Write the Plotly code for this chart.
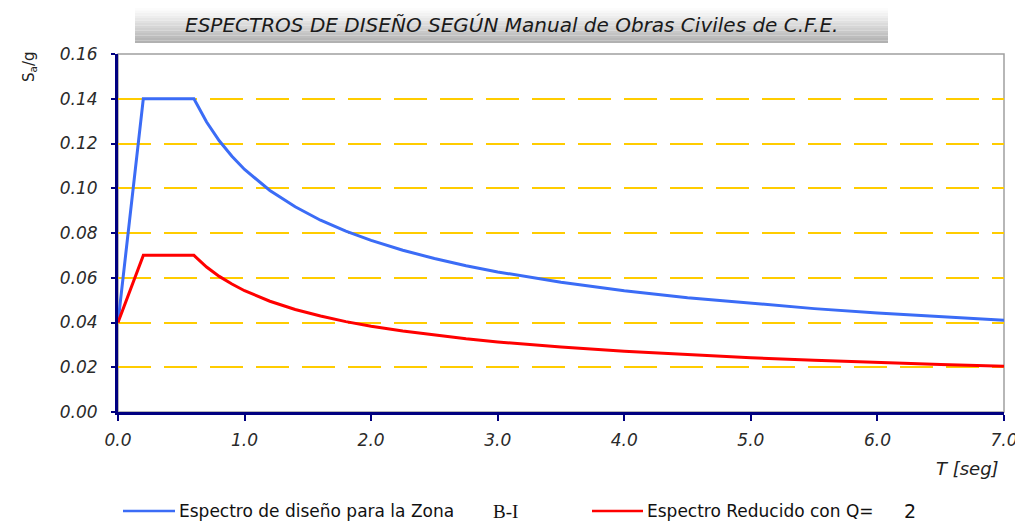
import plotly.graph_objects as go

# Periods T [seg]
T = [0.0, 0.2, 0.6, 0.7, 0.8, 0.9, 1.0, 1.2, 1.4, 1.6, 1.8, 2.0, 2.25, 2.5, 2.75,
     3.0, 3.5, 4.0, 4.5, 5.0, 5.5, 6.0, 6.5, 7.0]
# Design spectrum, zone B-I (Sa/g)
sa_design = [0.040, 0.140, 0.140, 0.1296, 0.1212, 0.1143, 0.1084, 0.0990, 0.0917,
             0.0857, 0.0808, 0.0767, 0.0723, 0.0686, 0.0654, 0.0626, 0.0580, 0.0542,
             0.0511, 0.0485, 0.0462, 0.0443, 0.0425, 0.0410]
# Reduced spectrum with Q = 2 (Sa/g)
sa_reduced = [0.040, 0.070, 0.070, 0.0648, 0.0606, 0.0572, 0.0542, 0.0495, 0.0458,
              0.0429, 0.0404, 0.0383, 0.0362, 0.0343, 0.0327, 0.0313, 0.0290, 0.0271,
              0.0255, 0.0242, 0.0231, 0.0221, 0.0212, 0.0205]

x_ticks = [0, 1, 2, 3, 4, 5, 6, 7]
x_tick_text = ["0.0", "1.0", "2.0", "3.0", "4.0", "5.0", "6.0", "7.0"]
y_ticks = [0.00, 0.02, 0.04, 0.06, 0.08, 0.10, 0.12, 0.14, 0.16]
y_tick_text = ["0.00", "0.02", "0.04", "0.06", "0.08", "0.10", "0.12", "0.14", "0.16"]

title_text = "ESPECTROS DE DISEÑO SEGÚN Manual de Obras Civiles de C.F.E."
legend_1 = "Espectro de diseño para la Zona"
zone = "B-I"
legend_2 = "Espectro Reducido con Q="
q_value = "2"

BLUE = "#3b6cf6"
RED = "#ff0000"
NAVY = "#000080"
GRID = "#ffcc00"

W, H = 1015, 521
L, R, TOP, B = 118, 11, 54, 109
pw, ph = W - L - R, H - TOP - B


def px(xp):
    return (xp - L) / pw


def py(yp):
    return (H - B - yp) / ph


fig = go.Figure()
fig.add_trace(go.Scatter(x=T, y=sa_design, mode="lines",
                         line=dict(color=BLUE, width=3), name=legend_1,
                         showlegend=False))
fig.add_trace(go.Scatter(x=T, y=sa_reduced, mode="lines",
                         line=dict(color=RED, width=3), name=legend_2,
                         showlegend=False))

ITALIC = "DejaVu Sans"
tick_font = dict(family=ITALIC, size=17, color="#2a2a2a", style="italic")

fig.update_xaxes(range=[0, 7], tickvals=x_ticks, ticktext=x_tick_text,
                 showgrid=False, zeroline=False, showline=True,
                 linecolor=NAVY, linewidth=3, ticks="outside", ticklen=6,
                 tickwidth=2, tickcolor=NAVY, tickfont=tick_font,
                 ticklabelstandoff=5, ticklabeloverflow="allow",
                 automargin=False)
fig.update_yaxes(range=[0, 0.16], tickvals=y_ticks, ticktext=y_tick_text,
                 showgrid=True, gridcolor=GRID, gridwidth=1.5,
                 griddash="33px,13px", zeroline=False, showline=True,
                 linecolor=NAVY, linewidth=3, ticks="outside", ticklen=4,
                 tickwidth=2, tickcolor=NAVY, tickfont=tick_font,
                 ticklabelstandoff=10, automargin=False)

shapes = []
# gray frame (top and right)
shapes.append(dict(type="rect", xref="paper", yref="paper", x0=0, x1=1, y0=0,
                   y1=1, line=dict(color="#a0a0a0", width=1.5), layer="below"))

# title box with gray gradient
bx0, bx1, by0, by1 = 135, 888, 8, 43
n = 14
for i in range(n):
    t = i / (n - 1)
    g = int(252 - 75 * (t ** 1.1))
    ya = by0 + (by1 - by0) * i / n
    yb = by0 + (by1 - by0) * (i + 1) / n
    shapes.append(dict(type="rect", xref="paper", yref="paper",
                       x0=px(bx0), x1=px(bx1), y0=py(yb), y1=py(ya),
                       fillcolor=f"rgb({g},{g},{g})", line=dict(width=0),
                       layer="below"))

# legend line samples
ly = py(511)
shapes.append(dict(type="line", xref="paper", yref="paper", x0=px(123),
                   x1=px(175), y0=ly, y1=ly, line=dict(color=BLUE, width=2.5)))
shapes.append(dict(type="line", xref="paper", yref="paper", x0=px(592),
                   x1=px(643), y0=ly, y1=ly, line=dict(color=RED, width=2.5)))

leg_font = dict(family="DejaVu Sans", size=17, color="#111111")
annotations = [
    dict(text=title_text, xref="paper", yref="paper", x=px(511), y=py(25),
         showarrow=False, xanchor="center", yanchor="middle",
         font=dict(family=ITALIC, size=20, color="#1a1a1a", style="italic")),
    dict(text="T [seg]", xref="paper", yref="paper", x=px(1001), y=py(468),
         showarrow=False, xanchor="right", yanchor="middle",
         font=dict(family=ITALIC, size=18, color="#222222", style="italic")),
    dict(text="S<sub>a</sub>/g", xref="paper", yref="paper", x=px(29),
         y=py(67), showarrow=False, xanchor="center", yanchor="middle",
         textangle=-90,
         font=dict(family="DejaVu Sans", size=15, color="#222222")),
    dict(text=legend_1, xref="paper", yref="paper", x=px(177), y=ly,
         showarrow=False, xanchor="left", yanchor="middle", font=leg_font),
    dict(text=zone, xref="paper", yref="paper", x=px(491), y=ly,
         showarrow=False, xanchor="left", yanchor="middle",
         font=dict(family="Liberation Serif, Times New Roman", size=19,
                   color="#111111")),
    dict(text=legend_2, xref="paper", yref="paper", x=px(645), y=ly,
         showarrow=False, xanchor="left", yanchor="middle", font=leg_font),
    dict(text=q_value, xref="paper", yref="paper", x=px(902), y=ly,
         showarrow=False, xanchor="left", yanchor="middle",
         font=dict(family="DejaVu Sans", size=19, color="#111111")),
]

fig.update_layout(width=W, height=H, margin=dict(l=L, r=R, t=TOP, b=B),
                  paper_bgcolor="white", plot_bgcolor="white",
                  shapes=shapes, annotations=annotations, showlegend=False)

fig.write_html("out.html", config={"displayModeBar": False},
               post_script="document.body.style.margin='0';"
                           "document.body.style.overflow='hidden';")
